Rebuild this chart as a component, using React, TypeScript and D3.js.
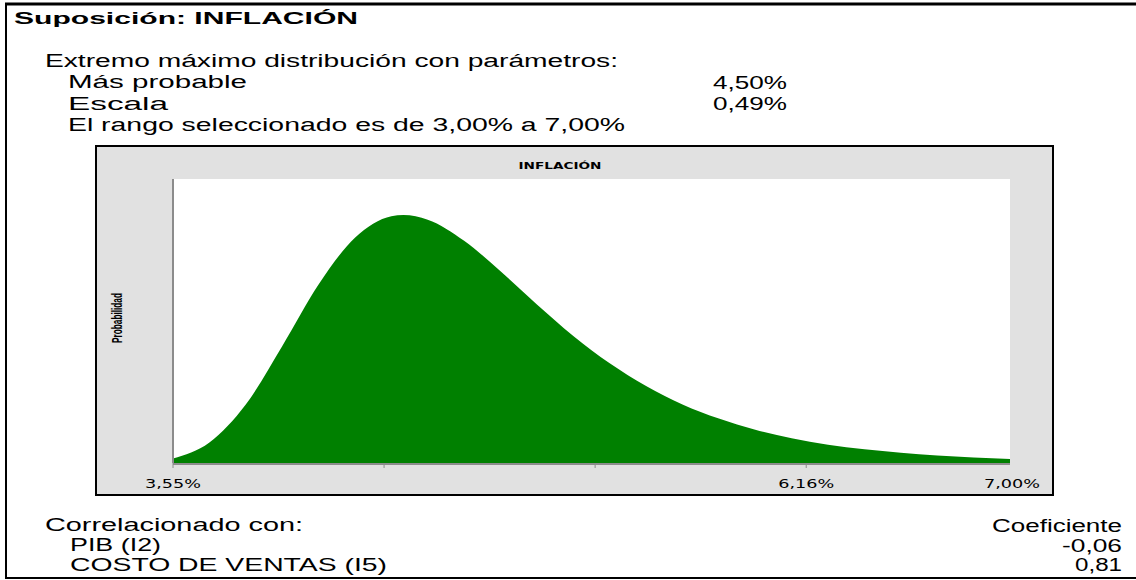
import { useEffect, useRef } from "react";
import * as d3 from "d3";

// inflation values (%) and relative probability
const inflation = [
  3.55, 3.7, 3.85, 4.0, 4.15, 4.3, 4.45, 4.5, 4.6, 4.75, 4.9, 5.05, 5.2, 5.35,
  5.5, 5.65, 5.8, 5.95, 6.1, 6.25, 6.4, 6.55, 6.7, 6.85, 7.0
];
const probability = [
  0.018, 0.083, 0.236, 0.471, 0.72, 0.908, 0.995, 1.0, 0.981, 0.896, 0.773,
  0.639, 0.512, 0.402, 0.31, 0.236, 0.179, 0.134, 0.1, 0.074, 0.055, 0.041,
  0.03, 0.022, 0.016
];

const tickValues = [3.55, 4.42, 5.29, 6.16];
const tickLabels = ["3,55%", "", "", "6,16%"];
const endLabel = "7,00%";

const paramNames = ["Más probable", "Escala"];
const paramValues = ["4,50%", "0,49%"];

const corrNames = ["PIB (I2)", "COSTO DE VENTAS (I5)"];
const corrValues = ["-0,06", "0,81"];

export default function App() {
  const ref = useRef<SVGSVGElement>(null);

  useEffect(() => {
    const svg = d3.select(ref.current);
    svg.selectAll("*").remove();

    const width = 1136;
    const height = 580;
    const sans = "'Liberation Sans', Arial, sans-serif";
    const chartFont = "'DejaVu Sans', Verdana, sans-serif";

    svg.attr("width", width).attr("height", height);

    svg.append("rect")
      .attr("width", width).attr("height", height)
      .attr("fill", "#fff");

    // outer frame (top, left, bottom)
    svg.append("line").attr("x1", 5).attr("x2", width).attr("y1", 4).attr("y2", 4)
      .attr("stroke", "#000").attr("stroke-width", 3);
    svg.append("line").attr("x1", 6).attr("x2", 6).attr("y1", 3).attr("y2", 579)
      .attr("stroke", "#000").attr("stroke-width", 2);
    svg.append("line").attr("x1", 5).attr("x2", width).attr("y1", 578).attr("y2", 578)
      .attr("stroke", "#000").attr("stroke-width", 2);

    // the source picture is stretched sideways, so text is fitted to its width
    const txt = (x, y, s, len, opts: any = {}) =>
      svg.append("text")
        .attr("x", x).attr("y", y)
        .attr("font-family", opts.family || sans)
        .attr("font-size", opts.size || 18)
        .attr("font-weight", opts.weight || "normal")
        .attr("text-anchor", opts.anchor || "start")
        .attr("textLength", len)
        .attr("lengthAdjust", "spacingAndGlyphs")
        .attr("fill", "#000")
        .text(s);

    txt(14, 24, "Suposición: INFLACIÓN", 344, { weight: "bold", size: 17 });
    txt(45, 67, "Extremo máximo distribución con parámetros:", 573);
    txt(68, 88, paramNames[0], 179);
    txt(713, 89, paramValues[0], 74);
    txt(68, 110, paramNames[1], 100);
    txt(713, 110, paramValues[1], 74);
    txt(68, 131, "El rango seleccionado es de 3,00% a 7,00%", 557);

    txt(45, 531, "Correlacionado con:", 258);
    txt(1122, 532, "Coeficiente", 130, { anchor: "end" });
    txt(70, 551, corrNames[0], 91);
    txt(70, 571, corrNames[1], 317);
    txt(1122, 552, corrValues[0], 60, { anchor: "end" });
    txt(1122, 571, corrValues[1], 47, { anchor: "end" });

    // chart panel
    svg.append("rect")
      .attr("x", 96).attr("y", 146).attr("width", 957).attr("height", 349)
      .attr("fill", "#e1e1e1").attr("stroke", "#000").attr("stroke-width", 2);

    const plot = { left: 173, right: 1010, top: 179, bottom: 463 };

    svg.append("rect")
      .attr("x", plot.left).attr("y", plot.top)
      .attr("width", plot.right - plot.left).attr("height", plot.bottom - plot.top)
      .attr("fill", "#fff");

    const x = d3.scaleLinear().domain([3.55, 7.0]).range([plot.left, plot.right]);
    const y = d3.scaleLinear().domain([0, 1.145]).range([plot.bottom, plot.top]);

    const data = inflation.map((v, i) => ({ x: v, p: probability[i] }));

    const area = d3.area<{ x: number; p: number }>()
      .x(d => x(d.x))
      .y0(y(0))
      .y1(d => y(d.p))
      .curve(d3.curveMonotoneX);

    svg.append("path")
      .datum(data)
      .attr("d", area)
      .attr("fill", "#008000");

    // axes
    svg.append("line")
      .attr("x1", plot.left).attr("x2", plot.left)
      .attr("y1", plot.top).attr("y2", plot.bottom)
      .attr("stroke", "#8c8c8c").attr("stroke-width", 2);
    svg.append("line")
      .attr("x1", plot.left).attr("x2", plot.right)
      .attr("y1", plot.bottom + 1).attr("y2", plot.bottom + 1)
      .attr("stroke", "#8c8c8c").attr("stroke-width", 2);

    svg.selectAll("line.tick")
      .data(tickValues)
      .join("line")
      .attr("class", "tick")
      .attr("x1", d => x(d)).attr("x2", d => x(d))
      .attr("y1", plot.bottom).attr("y2", plot.bottom + 5)
      .attr("stroke", "#8c8c8c").attr("stroke-width", 1);

    const labelled = tickValues.filter((d, i) => tickLabels[i]);

    svg.selectAll("text.ticklabel")
      .data(labelled)
      .join("text")
      .attr("class", "ticklabel")
      .attr("x", d => x(d))
      .attr("y", 488)
      .attr("text-anchor", "middle")
      .attr("font-family", chartFont)
      .attr("font-size", 12)
      .attr("textLength", 56)
      .attr("lengthAdjust", "spacingAndGlyphs")
      .text(d => tickLabels[tickValues.indexOf(d)]);

    svg.append("text")
      .attr("x", x(7.0) + 2).attr("y", 488)
      .attr("text-anchor", "middle")
      .attr("font-family", chartFont)
      .attr("font-size", 12)
      .attr("textLength", 56)
      .attr("lengthAdjust", "spacingAndGlyphs")
      .text(endLabel);

    svg.append("text")
      .attr("x", 560).attr("y", 169)
      .attr("text-anchor", "middle")
      .attr("font-family", chartFont)
      .attr("font-size", 9)
      .attr("font-weight", "bold")
      .attr("textLength", 83)
      .attr("lengthAdjust", "spacingAndGlyphs")
      .text("INFLACIÓN");

    svg.append("text")
      .attr("transform", "translate(122,318) scale(1.45,1) rotate(-90)")
      .attr("text-anchor", "middle")
      .attr("font-family", "'Liberation Sans Narrow', 'Arial Narrow', sans-serif")
      .attr("font-size", 10)
      .attr("font-weight", "bold")
      .attr("textLength", 50)
      .attr("lengthAdjust", "spacingAndGlyphs")
      .text("Probabilidad");
  }, []);

  return <svg ref={ref} style={{ position: "absolute", left: 0, top: 0 }}></svg>;
}
